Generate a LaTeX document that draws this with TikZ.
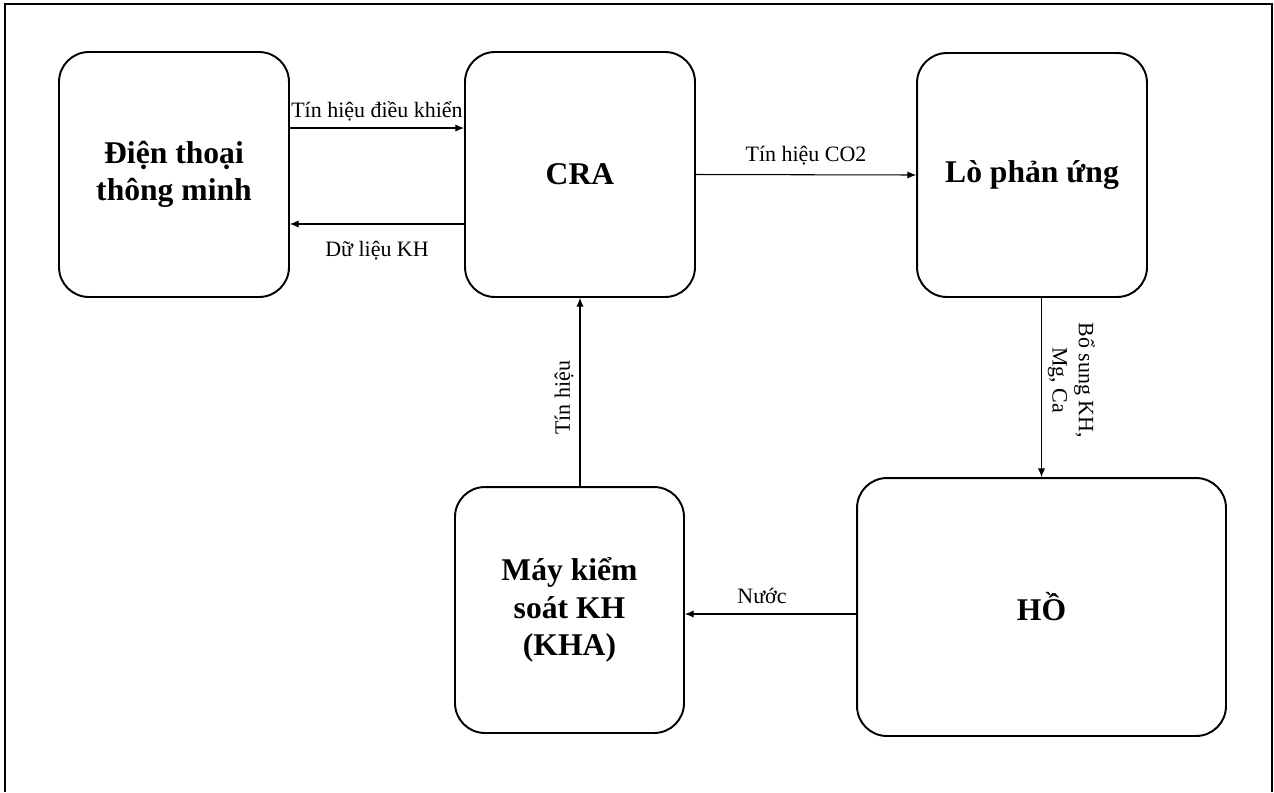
\documentclass[tikz,border=0pt]{standalone}
\usepackage{fontspec}
\setmainfont{Liberation Serif}
\usetikzlibrary{positioning,arrows.meta}

\tikzset{
  khoi/.style={draw,line width=1.1pt,rounded corners=17pt,align=center,inner sep=0pt,
    font=\fontsize{18}{21.2}\selectfont\bfseries},
  muiten/.style={line width=0.6pt,-{Latex[length=5pt,width=4.2pt]}},
  nhan/.style={font=\fontsize{12.5}{15}\selectfont,align=center}
}

\begin{document}
\begin{tikzpicture}[x=0.02cm,y=-0.02cm]
\useasboundingbox (0,0) rectangle (1274,792);
\draw[line width=1.1pt] (5,792)--(5,4)--(1272,4)--(1272,792);

 \node[khoi,minimum width=4.6cm,minimum height=4.9cm] (dienthoai) at (174,174.5) {Điện thoại\\thông minh};
 \node[khoi,minimum width=4.6cm,minimum height=4.9cm] (cra) at (580,174.5) {CRA};
 \node[khoi,minimum width=4.6cm,minimum height=4.88cm] (lo) at (1032,175) {Lò phản ứng};
 \node[khoi,minimum width=4.58cm,minimum height=4.92cm] (kha) at (569.5,610) {Máy kiểm\\soát KH\\(KHA)};
 \node[khoi,minimum width=7.38cm,minimum height=5.16cm] (ho) at (1041.5,607) {HỒ};

 \draw[muiten] ([yshift=0.93cm]dienthoai.east) -- ([yshift=0.93cm]dienthoai.east -| cra.west) node[nhan,midway,above]{Tín hiệu điều khiển};
 \draw[muiten] ([yshift=-0.99cm]cra.west) -- ([yshift=-0.99cm]cra.west -| dienthoai.east) node[nhan,midway,below=6pt]{Dữ liệu KH};
 \draw[muiten] (cra.east) -- (lo.west) node[nhan,midway,above=2pt]{Tín hiệu CO2};
 \draw[muiten] (lo.south -| ho.north) -- (ho.north) node[nhan,pos=0.46,above,rotate=-90]{Bổ sung KH,\\Mg, Ca};
 \draw[muiten] ([yshift=-0.14cm]ho.west) -- ([yshift=-0.14cm]ho.west -| kha.east) node[nhan,pos=0.55,above=2pt]{Nước};
 \draw[muiten] (kha.north -| cra.south) -- (cra.south) node[nhan,pos=0.45,above=2pt,rotate=90]{Tín hiệu};

\end{tikzpicture}
\end{document}
